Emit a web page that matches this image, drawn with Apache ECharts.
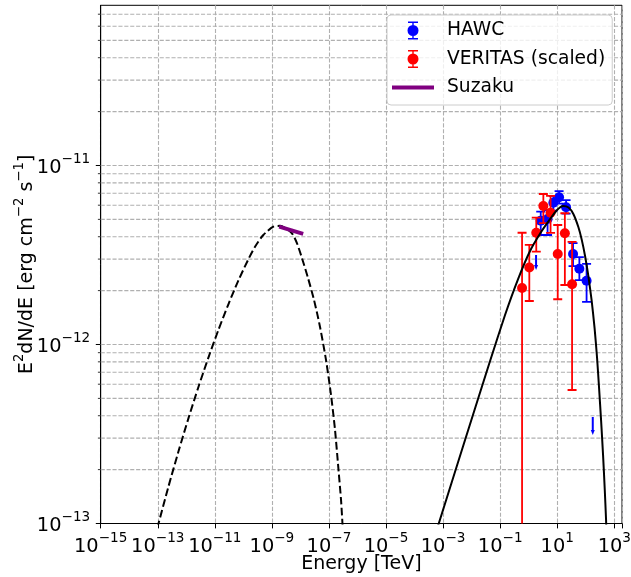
<!DOCTYPE html>
<html><head><meta charset="utf-8">
<script src="https://cdn.jsdelivr.net/npm/echarts@6/dist/echarts.min.js"></script>
<style>html,body{margin:0;padding:0;background:#fff}#c{width:631px;height:577px}</style>
</head><body><div id="c"></div>
<script>
const FONT = 'DejaVu Sans';

// Synchrotron model (dashed): energy [TeV], E^2 dN/dE [erg cm^-2 s^-1]
const syncE = [9.64e-14, 2.377e-13, 5.33e-13, 1.194e-12, 2.68e-12, 6.0e-12, 1.346e-11, 3.01e-11, 6.76e-11, 1.456e-10, 2.56e-10, 5.0e-10, 1.122e-9, 1.928e-9, 3.13e-9, 5.07e-9, 7.6e-9, 1.138e-8, 1.845e-8, 2.99e-8, 4.86e-8, 7.89e-8, 1.18e-7, 1.63e-7, 2.16e-7, 2.65e-7, 3.03e-7];
const syncF = [9.44e-14, 1.611e-13, 2.53e-13, 3.88e-13, 5.81e-13, 8.48e-13, 1.211e-12, 1.683e-12, 2.286e-12, 2.965e-12, 3.516e-12, 4.09e-12, 4.55e-12, 4.60e-12, 4.45e-12, 4.18e-12, 3.67e-12, 3.03e-12, 2.35e-12, 1.775e-12, 1.253e-12, 8.18e-13, 5.22e-13, 3.33e-13, 1.99e-13, 1.35e-13, 9.44e-14];

// Inverse-Compton model (solid)
const icE = [6.38e-4, 5.87e-3, 4.42e-2, 0.148, 0.424, 1.114, 2.71, 5.60, 9.86, 16.0, 24.9, 36.7, 54.95, 72.4, 94.4, 123.3, 159.6, 203.2, 248.9, 292.4, 343.6, 403.6, 463.4, 514, 527];
const icF = [9.51e-14, 2.93e-13, 8.09e-13, 1.462e-12, 2.32e-12, 3.33e-12, 4.25e-12, 5.02e-12, 5.64e-12, 5.94e-12, 5.83e-12, 5.36e-12, 4.53e-12, 3.84e-12, 3.12e-12, 2.41e-12, 1.773e-12, 1.237e-12, 8.41e-13, 5.71e-13, 3.78e-13, 2.41e-13, 1.54e-13, 1.047e-13, 9.2e-14];

// Suzaku segment
const suzakuE = [1.8e-9, 1.25e-8];
const suzakuF = [4.55e-12, 4.15e-12];

// HAWC points
const hawcE  = [2.64, 4.58, 7.31, 11.6, 20.4, 35.8, 59.6, 106.7];
const hawcF  = [4.92e-12, 5.02e-12, 6.19e-12, 6.64e-12, 5.84e-12, 3.20e-12, 2.65e-12, 2.27e-12];
const hawcLo = [4.09e-12, 4.09e-12, 5.60e-12, 6.13e-12, 5.39e-12, 2.74e-12, 2.29e-12, 1.73e-12];
const hawcHi = [5.52e-12, 5.64e-12, 6.75e-12, 7.20e-12, 6.41e-12, 3.68e-12, 3.08e-12, 2.82e-12];
// HAWC upper limits
const hawcUlE  = [1.81, 175.8];
const hawcUlF  = [3.16e-12, 3.94e-13];
const hawcUlTo = [2.61e-12, 3.12e-13];

// VERITAS (scaled) points
const verE  = [0.585, 1.05, 1.84, 3.26, 5.83, 10.4, 18.5, 33.1];
const verF  = [2.07e-12, 2.69e-12, 4.21e-12, 5.94e-12, 5.45e-12, 3.20e-12, 4.18e-12, 2.17e-12];
const verLo = [1e-15, 1.75e-12, 3.30e-12, 4.77e-12, 4.20e-12, 1.79e-12, 2.15e-12, 5.57e-13];
const verHi = [4.21e-12, 3.60e-12, 5.11e-12, 6.93e-12, 6.76e-12, 4.65e-12, 5.41e-12, 3.74e-12];

// Axes
const xRange = [1e-15, 1.86e3];
const yRange = [1e-13, 7.85e-11];
const yTicks = [1e-13, 1e-12, 1e-11];
const yMinorTicks = [2e-13, 3e-13, 4e-13, 5e-13, 6e-13, 7e-13, 8e-13, 9e-13,
                     2e-12, 3e-12, 4e-12, 5e-12, 6e-12, 7e-12, 8e-12, 9e-12,
                     2e-11, 3e-11, 4e-11, 5e-11, 6e-11, 7e-11];

const L = Math.log10;
const pts = (xs, ys) => xs.map((x, i) => [L(x), L(ys[i])]);
const GRID_COLOR = '#b0b0b0';
const GRID_DASH = [4.1, 1.8];

function powLabel(v) {
  if (Math.abs(v - Math.round(v)) > 1e-6) return '';
  const e = Math.round(v);
  return '{b|10}{s|' + (e < 0 ? '\u2212' : '') + Math.abs(e) + '}';
}
const richTick = {
  b: {fontFamily: FONT, fontSize: 19.4, lineHeight: 24, verticalAlign: 'bottom', color: '#000'},
  s: {fontFamily: FONT, fontSize: 13.6, lineHeight: 14, verticalAlign: 'bottom', padding: [0, 0, 11, 0], color: '#000'}
};
const richName = {
  n: {fontFamily: FONT, fontSize: 19, lineHeight: 24, verticalAlign: 'bottom', color: '#000'},
  s: {fontFamily: FONT, fontSize: 13.3, lineHeight: 14, verticalAlign: 'bottom', padding: [0, 0, 11, 0], color: '#000'}
};

function errRender(color, xs, lo, hi) {
  return function (params, api) {
    const i = params.dataIndex;
    const pHi = api.coord([L(xs[i]), L(hi[i])]);
    const pLo = api.coord([L(xs[i]), L(lo[i])]);
    const w = 4.5;
    const st = {stroke: color, lineWidth: 1.8};
    return {type: 'group', children: [
      {type: 'line', shape: {x1: pHi[0], y1: pHi[1], x2: pLo[0], y2: pLo[1]}, style: st},
      {type: 'line', shape: {x1: pHi[0] - w, y1: pHi[1], x2: pHi[0] + w, y2: pHi[1]}, style: st},
      {type: 'line', shape: {x1: pLo[0] - w, y1: pLo[1], x2: pLo[0] + w, y2: pLo[1]}, style: st}
    ]};
  };
}

const ebIcon = 'path://M4.8,0h1.4v18h-1.4z M0.5,0h10v1.5h-10z M0.5,16.5h10v1.5h-10z M0,9a5.5,5.5 0 1 1 11,0a5.5,5.5 0 1 1 -11,0z';

const chart = echarts.init(document.getElementById('c'), null, {renderer: 'canvas'});
chart.setOption({
  animation: false,
  backgroundColor: '#fff',
  grid: {left: 100.7, right: 9, top: 5.3, bottom: 53.5, show: true, borderColor: '#000', borderWidth: 1,
         backgroundColor: 'transparent', containLabel: false, outerBoundsMode: 'none'},
  legend: {
    orient: 'vertical', left: 387, top: 15,
    padding: [6, 7, 8, 5],
    itemWidth: 42, itemHeight: 18, itemGap: 9.5,
    selectedMode: false,
    backgroundColor: 'rgba(255,255,255,0.8)', borderColor: '#cccccc', borderWidth: 1, borderRadius: 4,
    textStyle: {fontFamily: FONT, fontSize: 18.7, color: '#000', padding: [0, 0, 0, 8]},
    data: [
      {name: 'HAWC', icon: ebIcon, itemStyle: {color: '#0000ff', borderWidth: 0, opacity: 1}},
      {name: 'VERITAS (scaled)', icon: ebIcon, itemStyle: {color: '#ff0000', borderWidth: 0, opacity: 1}},
      {name: 'Suzaku', icon: 'path://M0,0h42v4h-42z', itemStyle: {color: '#800080', borderWidth: 0, opacity: 1}}
    ]
  },
  xAxis: {
    type: 'value', min: L(xRange[0]), max: L(xRange[1]), interval: 2,
    name: 'Energy [TeV]', nameLocation: 'middle', nameGap: 31, nameMoveOverlap: false,
    nameTextStyle: {fontFamily: FONT, fontSize: 19, color: '#000'},
    axisLine: {show: true, onZero: false, lineStyle: {color: '#000', width: 1}},
    axisTick: {show: true, length: 4.9, lineStyle: {color: '#000', width: 1}},
    splitLine: {show: true, lineStyle: {color: GRID_COLOR, width: 1.1, type: GRID_DASH}},
    axisLabel: {margin: 9, formatter: powLabel, rich: richTick}
  },
  yAxis: {
    type: 'value', min: L(yRange[0]), max: L(yRange[1]), interval: 1,
    name: '{n|E}{s|2}{n|dN/dE [erg cm}{s|\u22122}{n| s}{s|\u22121}{n|]}',
    nameLocation: 'middle', nameGap: 64, nameMoveOverlap: false,
    nameTextStyle: {rich: richName, fontFamily: FONT, fontSize: 19, color: '#000'},
    axisLine: {show: true, onZero: false, lineStyle: {color: '#000', width: 1}},
    axisTick: {show: false},
    splitLine: {show: false},
    axisLabel: {margin: 10.5, formatter: powLabel, rich: richTick}
  },
  series: [
    { // y gridlines + ticks (major and minor)
      type: 'custom', name: 'ygrid', z: 1, clip: false, silent: true,
      data: yTicks.map(v => [L(xRange[0]), L(v), 1]).concat(yMinorTicks.map(v => [L(xRange[0]), L(v), 0])),
      encode: {x: 0, y: 1},
      renderItem: function (params, api) {
        const i = params.dataIndex;
        const major = i < yTicks.length;
        const v = major ? yTicks[i] : yMinorTicks[i - yTicks.length];
        const p = api.coord([L(xRange[0]), L(v)]);
        const cs = params.coordSys;
        const len = major ? 4.9 : 2.8;
        const ch = [{type: 'line', shape: {x1: cs.x - len, y1: p[1], x2: cs.x, y2: p[1]}, style: {stroke: '#000', lineWidth: major ? 1 : 0.8}}];
        if (p[1] > cs.y + 1 && p[1] < cs.y + cs.height - 1) {
          ch.push({type: 'line', shape: {x1: cs.x, y1: p[1], x2: cs.x + cs.width, y2: p[1]}, style: {stroke: GRID_COLOR, lineWidth: 1.1, lineDash: GRID_DASH}});
        }
        return {type: 'group', children: ch};
      }
    },
    { // HAWC error bars
      type: 'custom', name: 'HAWC err', z: 3, clip: true, silent: true,
      data: hawcE.map((e, i) => [L(e), L(hawcF[i])]),
      encode: {x: 0, y: 1},
      renderItem: errRender('#0000ff', hawcE, hawcLo, hawcHi)
    },
    { // HAWC upper limits
      type: 'custom', name: 'HAWC UL', z: 3, clip: true, silent: true,
      data: hawcUlE.map((e, i) => [L(e), L(hawcUlF[i])]),
      encode: {x: 0, y: 1},
      renderItem: function (params, api) {
        const i = params.dataIndex;
        const pT = api.coord([L(hawcUlE[i]), L(hawcUlF[i])]);
        const pB = api.coord([L(hawcUlE[i]), L(hawcUlTo[i])]);
        return {type: 'group', children: [
          {type: 'line', shape: {x1: pT[0], y1: pT[1], x2: pB[0], y2: pB[1] - 4}, style: {stroke: '#0000ff', lineWidth: 2}},
          {type: 'polygon', shape: {points: [[pB[0] - 2, pB[1] - 5], [pB[0] + 2, pB[1] - 5], [pB[0], pB[1]]]}, style: {fill: '#0000ff'}}
        ]};
      }
    },
    {
      type: 'scatter', name: 'HAWC', z: 4, symbol: 'circle', symbolSize: 10,
      itemStyle: {color: '#0000ff', opacity: 1},
      data: pts(hawcE, hawcF)
    },
    { // VERITAS error bars
      type: 'custom', name: 'VERITAS err', z: 5, clip: true, silent: true,
      data: verE.map((e, i) => [L(e), L(verF[i])]),
      encode: {x: 0, y: 1},
      renderItem: errRender('#ff0000', verE, verLo, verHi)
    },
    {
      type: 'scatter', name: 'VERITAS (scaled)', z: 6, symbol: 'circle', symbolSize: 10,
      itemStyle: {color: '#ff0000', opacity: 1},
      data: pts(verE, verF)
    },
    {
      type: 'line', name: 'Synchrotron', z: 7, showSymbol: false, smooth: 0.25, clip: true,
      lineStyle: {color: '#000', width: 2, type: [7.7, 3.3]},
      data: pts(syncE, syncF)
    },
    {
      type: 'line', name: 'IC', z: 7, showSymbol: false, smooth: 0.2, clip: true,
      lineStyle: {color: '#000', width: 2},
      data: pts(icE, icF)
    },
    {
      type: 'line', name: 'Suzaku', z: 8, showSymbol: false, clip: true,
      color: '#800080',
      lineStyle: {color: '#800080', width: 4, cap: 'butt'},
      data: pts(suzakuE, suzakuF)
    }
  ]
});
</script>
</body></html>
